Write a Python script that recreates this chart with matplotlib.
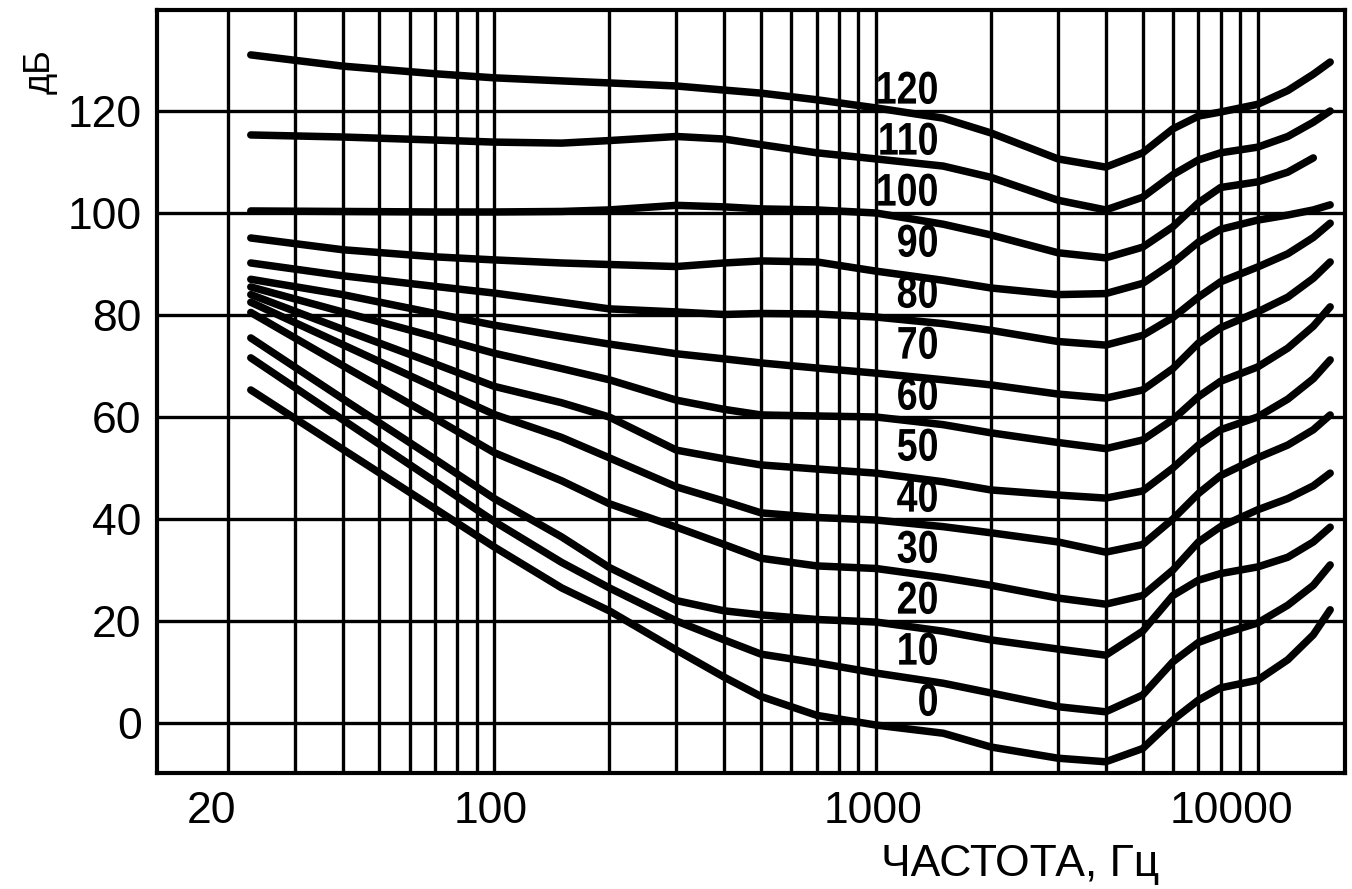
import matplotlib
matplotlib.use("Agg")
import numpy as np
import matplotlib.pyplot as plt
from matplotlib import patheffects
from matplotlib.transforms import Affine2D, ScaledTranslation

# частоты (Гц), общие для всех кривых
freq = [23, 40, 70, 100, 150, 200, 300, 400, 500, 700, 1000, 1500, 2000,
        3000, 4000, 5000, 6000, 7000, 8000, 10000, 12000, 14000, 15500]

# уровни громкости (фон) и кривые равной громкости, дБ
phon = [120, 110, 100, 90, 80, 70, 60, 50, 40, 30, 20, 10, 0]

db_120 = [131.0, 128.8, 127.3, 126.5, 125.9, 125.5, 124.9, 124.1, 123.5, 122.2, 120.6, 118.6,
          115.7, 110.6, 109.0, 111.8, 116.5, 119.0, 119.8, 121.3, 124.0, 127.2, 129.6]
db_110 = [115.3, 114.9, 114.3, 113.9, 113.7, 114.2, 115.0, 114.5, 113.4, 111.8, 110.6, 109.2,
          107.0, 102.5, 100.6, 103.1, 107.5, 110.4, 111.8, 112.9, 115.0, 117.8, 120.0]
db_100 = [100.4, 100.3, 100.2, 100.2, 100.3, 100.6, 101.5, 101.2, 100.8, 100.6, 100.0, 97.8,
          95.7, 92.2, 91.2, 93.3, 97.3, 102.0, 105.0, 106.1, 108.0, 110.8, np.nan]
db_90 = [95.1, 92.8, 91.4, 90.8, 90.2, 89.9, 89.5, 90.2, 90.6, 90.4, 88.6, 86.8,
         85.3, 84.0, 84.2, 86.2, 90.2, 94.3, 96.8, 98.6, 99.6, 100.6, 101.6]
db_80 = [90.2, 87.7, 85.6, 84.3, 82.5, 81.2, 80.6, 80.1, 80.3, 80.2, 79.6, 78.3,
         77.0, 74.8, 74.1, 76.0, 79.5, 83.5, 86.5, 89.4, 92.0, 95.2, 98.0]
db_70 = [87.0, 84.0, 80.3, 78.0, 75.8, 74.3, 72.4, 71.4, 70.6, 69.6, 68.6, 67.3,
         66.3, 64.5, 63.7, 65.3, 69.5, 74.5, 77.5, 80.6, 83.5, 87.2, 90.4]
db_60 = [85.5, 80.6, 75.7, 72.5, 69.5, 67.3, 63.3, 61.5, 60.4, 60.2, 60.0, 58.5,
         56.9, 55.0, 53.8, 55.5, 59.5, 64.0, 67.0, 69.8, 73.5, 77.8, 81.6]
db_50 = [84.0, 77.2, 70.4, 66.0, 62.8, 60.0, 53.5, 51.8, 50.6, 49.8, 49.0, 47.3,
         45.7, 44.7, 44.1, 45.5, 50.0, 54.5, 57.5, 60.0, 63.5, 67.5, 71.2]
db_40 = [82.5, 74.2, 65.8, 60.5, 56.0, 52.0, 46.3, 43.5, 41.2, 40.3, 39.8, 38.5,
         37.3, 35.5, 33.5, 35.0, 40.0, 45.0, 48.5, 52.0, 54.5, 57.5, 60.4]
db_30 = [80.5, 70.1, 59.7, 53.0, 47.5, 43.0, 38.4, 35.0, 32.3, 30.8, 30.3, 28.5,
         27.0, 24.5, 23.3, 25.0, 30.0, 35.5, 38.5, 41.8, 44.0, 46.5, 49.0]
db_20 = [75.5, 63.6, 51.7, 44.0, 36.5, 30.5, 24.0, 22.0, 21.2, 20.3, 19.8, 18.0,
         16.3, 14.5, 13.3, 18.0, 25.0, 28.0, 29.3, 30.6, 32.5, 35.5, 38.4]
db_10 = [71.6, 59.5, 47.3, 39.5, 31.5, 26.5, 20.0, 16.3, 13.5, 11.8, 9.8, 7.8,
         5.9, 3.2, 2.2, 5.5, 12.0, 15.8, 17.4, 19.6, 23.1, 27.0, 31.0]
db_0 = [65.3, 53.7, 42.0, 34.5, 26.5, 22.0, 14.3, 9.0, 5.2, 1.5, -0.4, -2.0,
        -4.7, -6.9, -7.6, -5.0, 0.6, 4.5, 6.9, 8.4, 12.4, 17.3, 22.2]

curves = [db_120, db_110, db_100, db_90, db_80, db_70, db_60,
          db_50, db_40, db_30, db_20, db_10, db_0]

x_major = [20, 100, 1000, 10000]
x_major_labels = ["20", "100", "1000", "10000"]
x_minor = [30, 40, 50, 60, 70, 80, 90,
           200, 300, 400, 500, 600, 700, 800, 900,
           2000, 3000, 4000, 5000, 6000, 7000, 8000, 9000]
y_ticks = [0, 20, 40, 60, 80, 100, 120]


# сжатие надписи по горизонтали (узкий жирный шрифт оригинала)
class SqueezeX(patheffects.AbstractPathEffect):
    def __init__(self, sx, anchor):
        super().__init__()
        self.sx = sx
        self.anchor = anchor

    def draw_path(self, renderer, gc, tpath, affine, rgbFace=None):
        x0 = self.anchor()
        affine = affine + Affine2D().translate(-x0, 0).scale(self.sx, 1).translate(x0, 0)
        renderer.draw_path(gc, tpath, affine, rgbFace)


plt.rcParams["font.family"] = ["Liberation Sans", "DejaVu Sans"]

fig = plt.figure(figsize=(13.52, 8.89), dpi=100)
ax = fig.add_axes([157 / 1352, 1 - 773 / 889, 1188 / 1352, 763 / 889])
ax.set_xscale("log")
ax.set_xlim(13.06, 16950)
ax.set_ylim(-9.8, 139.8)

ax.set_xticks(x_major, labels=x_major_labels)
ax.set_xticks(x_minor, minor=True)
ax.set_xticklabels([], minor=True)
ax.set_yticks(y_ticks)
ax.tick_params(which="both", length=0)
ax.tick_params(axis="x", labelsize=32, pad=13)
ax.tick_params(axis="y", labelsize=32, pad=11)

ax.set_axisbelow(True)
ax.grid(which="both", axis="x", color="black", lw=2.4)
ax.grid(which="major", axis="y", color="black", lw=2.4)
for s in ax.spines.values():
    s.set_linewidth(3)
    s.set_color("black")

# подписи по оси X в оригинале чуть сдвинуты
shifts = [-16, -4, -3, -26]
for lab, dx in zip(ax.get_xticklabels(), shifts):
    lab.set_transform(lab.get_transform() + ScaledTranslation(dx / 100, 0, fig.dpi_scale_trans))

label_x = 1460
for lvl, vals in zip(phon, curves):
    ax.plot(freq, vals, color="black", lw=5.4,
            solid_capstyle="round", solid_joinstyle="round")
    ax.text(label_x, lvl + 3.8, str(lvl), ha="right", va="center",
            fontsize=33, fontweight="bold",
            path_effects=[SqueezeX(0.82, lambda: ax.transData.transform((label_x, 0))[0])])

fig.text(40 / 1352, 1 - 72 / 889, "дБ", rotation=90, ha="center", va="center", fontsize=26)
fig.text(1020 / 1352, 1 - 876 / 889, "ЧАСТОТА, Гц", ha="center", va="baseline", fontsize=32)

fig.savefig("out.png", dpi=100)
